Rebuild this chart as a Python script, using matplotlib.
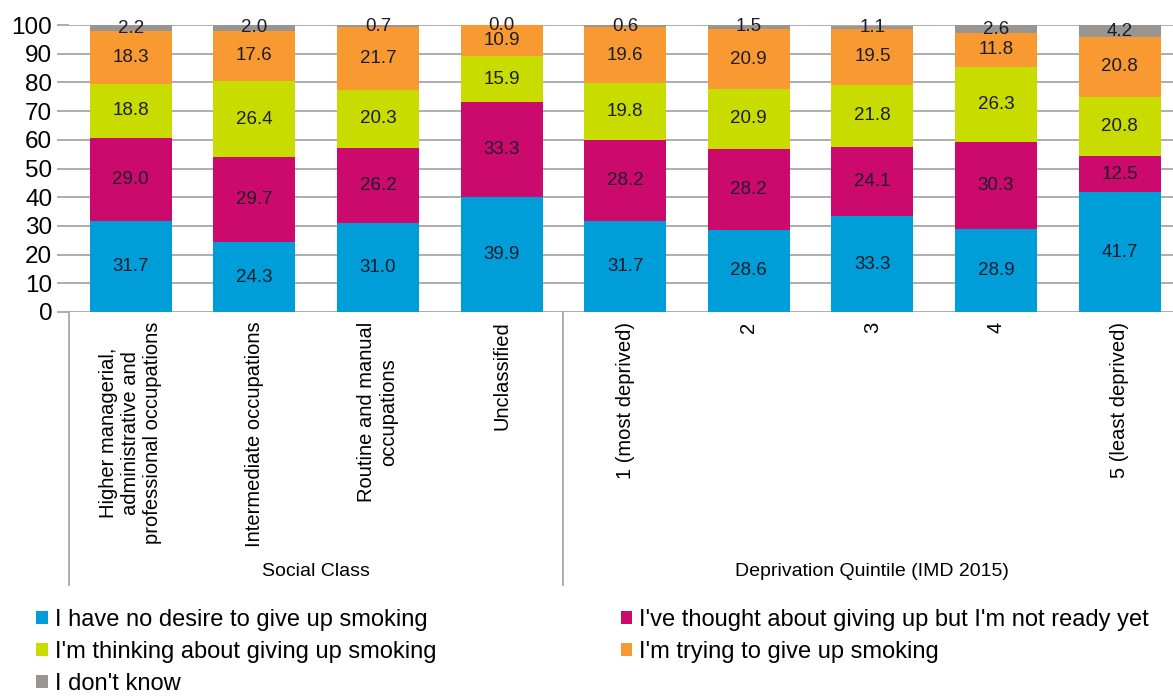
import matplotlib.pyplot as plt
import matplotlib.transforms as mtransforms
import numpy as np

categories = [
    "Higher managerial,\nadministrative and\nprofessional occupations",
    "Intermediate occupations",
    "Routine and manual\noccupations",
    "Unclassified",
    "1 (most deprived)",
    "2",
    "3",
    "4",
    "5 (least deprived)",
]
groups = ["Social Class", "Deprivation Quintile (IMD 2015)"]
group_sizes = [4, 5]

no_desire = [31.7, 24.3, 31.0, 39.9, 31.7, 28.6, 33.3, 28.9, 41.7]
not_ready = [29.0, 29.7, 26.2, 33.3, 28.2, 28.2, 24.1, 30.3, 12.5]
thinking = [18.8, 26.4, 20.3, 15.9, 19.8, 20.9, 21.8, 26.3, 20.8]
trying = [18.3, 17.6, 21.7, 10.9, 19.6, 20.9, 19.5, 11.8, 20.8]
dont_know = [2.2, 2.0, 0.7, 0.0, 0.6, 1.5, 1.1, 2.6, 4.2]

series_names = [
    "I have no desire to give up smoking",
    "I've thought about giving up but I'm not ready yet",
    "I'm thinking about giving up smoking",
    "I'm trying to give up smoking",
    "I don't know",
]
colors = ["#009ed9", "#cc0a6e", "#c8dc00", "#f89a31", "#9a9590"]

plt.rcParams["font.family"] = ["Liberation Sans", "DejaVu Sans"]

fig = plt.figure(figsize=(11.73, 6.99), dpi=100)
W, H = 1173, 699
px_left, px_top, px_zero = 69, 25, 312
slot = 123.6
ax = fig.add_axes([px_left / W, (H - px_zero) / H, 1 - px_left / W, (px_zero - px_top) / H])

x = np.arange(len(categories))
bottom = np.zeros(len(categories))
bars = []
for vals, name, col in zip([no_desire, not_ready, thinking, trying, dont_know], series_names, colors):
    vals = np.array(vals)
    b = ax.bar(x, vals, bottom=bottom, width=0.665, color=col, label=name, zorder=2)
    bars.append(b)
    # value label in the middle of each segment
    for xi, v, bt in zip(x, vals, bottom):
        ax.text(xi, bt + v / 2, f"{v:.1f}", ha="center", va="center",
                fontsize=13.5, color="#1c1c2a", zorder=3)
    bottom += vals

ax.set_ylim(0, 100)
ax.set_xlim(-0.5, -0.5 + (W - px_left) / slot)
ax.set_yticks(range(0, 101, 10))
ax.yaxis.grid(True, color="#a0a0a0", linewidth=1.2, zorder=0)
for s in ["top", "right", "left", "bottom"]:
    ax.spines[s].set_visible(False)
ax.tick_params(axis="y", length=8.6, color="#a0a0a0", width=1.2, labelsize=17.5, pad=3.5)
ax.set_xticks(x)
ax.set_xticklabels(categories, rotation=90, ha="center", va="top",
                   multialignment="center", fontsize=14.5, linespacing=1.2)
ax.tick_params(axis="x", length=0, pad=7)

# group separators and group labels below the axis
trans = mtransforms.blended_transform_factory(ax.transData, ax.transAxes)
sep_bottom = -(585 - px_zero) / (px_zero - px_top)
edges = np.cumsum([0] + group_sizes) - 0.5
for e in edges:
    ax.plot([e, e], [0, sep_bottom], transform=trans, color="#a0a0a0",
            linewidth=1.2, clip_on=False)
label_y = -(572 - px_zero) / (px_zero - px_top)
for g, a, b in zip(groups, edges[:-1], edges[1:]):
    ax.text((a + b) / 2, label_y, g, transform=trans, ha="center", va="center", fontsize=14)

order = [0, 2, 4, 1, 3]
handles = [bars[i] for i in order]
labels = [series_names[i] for i in order]
fig.legend(handles, labels, loc="upper left", bbox_to_anchor=(36 / W, 1 - 609 / H),
           ncol=2, frameon=False, handlelength=0.5, handleheight=0.5, handletextpad=0.3,
           labelspacing=0.42, columnspacing=7.8, borderaxespad=0, borderpad=0,
           prop={"size": 17})

fig.savefig("out.png", dpi=100)
